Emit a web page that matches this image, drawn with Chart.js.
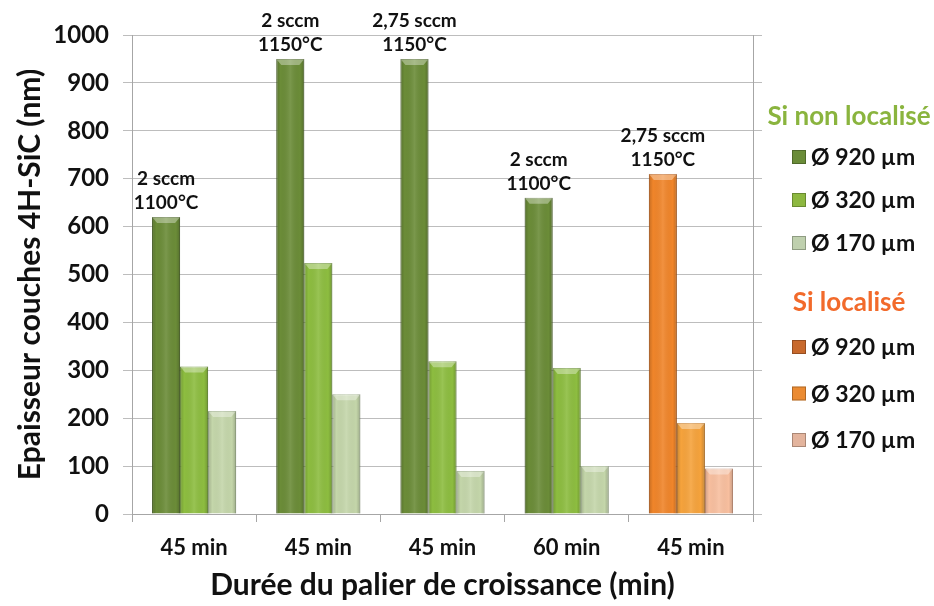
<!DOCTYPE html>
<html>
<head>
<meta charset="utf-8">
<script src="https://cdn.jsdelivr.net/npm/chart.js@4/dist/chart.umd.min.js"></script>
<style>
  html, body { margin: 0; padding: 0; background: #fff; }
  #wrap { width: 934px; height: 606px; position: relative; }
</style>
</head>
<body>
<div id="wrap"><canvas id="myChart"></canvas></div>
<script>
// durée du palier (axe x)
const categories = ['45 min', '45 min', '45 min', '60 min', '45 min'];
// épaisseur (nm) par diamètre
const values920 = [620, 950, 950, 660, 710];
const values320 = [308, 524, 319, 305, 190];
const values170 = [215, 250, 90, 100, 95];
// conditions de croissance au-dessus des barres
const annotFlux = ['2 sccm', '2 sccm', '2,75 sccm', '2 sccm', '2,75 sccm'];
const annotTemp = ['1100°C', '1150°C', '1150°C', '1100°C', '1150°C'];
// dernier groupe = Si localisé
const localise = [false, false, false, false, true];
const yTicks = [0, 100, 200, 300, 400, 500, 600, 700, 800, 900, 1000];
const legendGroups = ['Si non localisé', 'Si localisé'];
const legendItems = ['Ø 920 µm', 'Ø 320 µm', 'Ø 170 µm'];

const FONT = 'Lato';
const greens = ['#6b8c38', '#8dbd40', '#c4d6aa'];
const greenBorders = ['#4f6a28', '#6a9430', '#9aae84'];
const oranges = ['#f0852a', '#f6a33c', '#f8bf9f'];
const orangeBorders = ['#c0631c', '#cc7e26', '#cf9478'];
const legendGreens = ['#6a8c38', '#8db840', '#bfd0ae'];
const legendOranges = ['#c8692c', '#eb8b32', '#e3b49d'];
const headerColors = ['#8ab43e', '#f26a2b'];

function colorsFor(i) {
    return localise.map(l => l ? oranges[i] : greens[i]);
}
function bordersFor(i) {
    return localise.map(l => l ? orangeBorders[i] : greenBorders[i]);
}

// effet biseau sur les barres
const bevelPlugin = {
    id: 'bevel',
    afterDatasetsDraw(chart) {
        const ctx = chart.ctx;
        chart.data.datasets.forEach((ds, di) => {
            chart.getDatasetMeta(di).data.forEach(bar => {
                const w = bar.width, x0 = bar.x - w / 2, top = bar.y, base = bar.base;
                const g = ctx.createLinearGradient(x0, 0, x0 + w, 0);
                g.addColorStop(0, 'rgba(0,0,0,0.18)');
                g.addColorStop(0.15, 'rgba(0,0,0,0.0)');
                g.addColorStop(0.5, 'rgba(255,255,255,0.10)');
                g.addColorStop(0.85, 'rgba(0,0,0,0.0)');
                g.addColorStop(1, 'rgba(0,0,0,0.2)');
                ctx.save();
                ctx.fillStyle = g;
                ctx.fillRect(x0, top, w, base - top);
                // facette du haut
                ctx.beginPath();
                ctx.moveTo(x0, top);
                ctx.lineTo(x0 + w, top);
                ctx.lineTo(x0 + w - 5, top + 6);
                ctx.lineTo(x0 + 5, top + 6);
                ctx.closePath();
                ctx.fillStyle = 'rgba(255,255,255,0.35)';
                ctx.fill();
                ctx.restore();
            });
        });
    }
};

// étiquettes sccm / température
const annotPlugin = {
    id: 'annot',
    afterDatasetsDraw(chart) {
        const ctx = chart.ctx;
        const meta = chart.getDatasetMeta(0);
        ctx.save();
        ctx.font = `bold 19px ${FONT}`;
        ctx.fillStyle = '#111';
        ctx.textAlign = 'center';
        ctx.textBaseline = 'middle';
        meta.data.forEach((bar, i) => {
            ctx.fillText(annotTemp[i], bar.x, bar.y - 14);
            ctx.fillText(annotFlux[i], bar.x, bar.y - 38);
        });
        ctx.restore();
    }
};

// légende en deux groupes
const legendPlugin = {
    id: 'groupLegend',
    afterDraw(chart) {
        const ctx = chart.ctx;
        const area = chart.chartArea;
        const cx = area.right + 96;
        const boxX = area.right + 39;
        const headGap = [40, 44];
        const rowStep = [43, 46.5];
        const rows = [];
        let y = area.top + 82;
        legendGroups.forEach((grp, gi) => {
            rows.push({ header: grp, color: headerColors[gi], y: y });
            y += headGap[gi];
            legendItems.forEach((it, ii) => {
                rows.push({ text: it, color: gi === 0 ? legendGreens[ii] : legendOranges[ii], y: y });
                y += rowStep[gi];
            });
            y += 17;
        });
        ctx.save();
        ctx.textBaseline = 'middle';
        rows.forEach(r => {
            if (r.header) {
                ctx.font = `bold 26px ${FONT}`;
                ctx.fillStyle = r.color;
                ctx.textAlign = 'center';
                ctx.fillText(r.header, cx, r.y);
            } else {
                ctx.fillStyle = r.color;
                ctx.fillRect(boxX, r.y - 7, 14, 14);
                ctx.strokeStyle = 'rgba(0,0,0,0.25)';
                ctx.lineWidth = 1;
                ctx.strokeRect(boxX + 0.5, r.y - 6.5, 13, 13);
                ctx.font = `bold 23px ${FONT}`;
                ctx.fillStyle = '#111';
                ctx.textAlign = 'left';
                ctx.fillText(r.text, boxX + 19, r.y + 1);
            }
        });
        ctx.restore();
    }
};

const ctx = document.getElementById('myChart').getContext('2d');
const myChart = new Chart(ctx, {
    type: 'bar',
    data: {
        labels: categories,
        datasets: [
            { label: legendItems[0], data: values920, backgroundColor: colorsFor(0), borderColor: bordersFor(0), borderWidth: 1 },
            { label: legendItems[1], data: values320, backgroundColor: colorsFor(1), borderColor: bordersFor(1), borderWidth: 1 },
            { label: legendItems[2], data: values170, backgroundColor: colorsFor(2), borderColor: bordersFor(2), borderWidth: 1 }
        ]
    },
    options: {
        responsive: true,
        maintainAspectRatio: false,
        animation: false,
        categoryPercentage: 0.677,
        barPercentage: 1,
        layout: { padding: { top: 35, right: 172, bottom: 0, left: 0 } },
        plugins: {
            legend: { display: false },
            tooltip: { enabled: false }
        },
        scales: {
            x: {
                grid: {
                    offset: true,
                    drawOnChartArea: false,
                    color: '#a6a6a6',
                    tickLength: 8
                },
                border: { color: '#a6a6a6' },
                ticks: {
                    color: '#111',
                    padding: 13,
                    font: { family: FONT, size: 22, weight: 'bold' }
                },
                title: {
                    display: true,
                    text: 'Durée du palier de croissance (min)',
                    color: '#111',
                    font: { family: FONT, size: 30, weight: 'bold' },
                    padding: { top: 0, bottom: 3 }
                },
                afterFit(scale) { scale.height = 92; }
            },
            y: {
                min: 0,
                max: 1000,
                afterBuildTicks(scale) { scale.ticks = yTicks.map(v => ({ value: v })); },
                grid: { color: '#bdbdbd', tickLength: 9 },
                border: { color: '#a6a6a6' },
                ticks: {
                    color: '#111',
                    padding: 14,
                    font: { family: FONT, size: 24, weight: 'bold' },
                    callback: v => String(v)
                },
                title: {
                    display: true,
                    text: 'Epaisseur couches 4H-SiC (nm)',
                    color: '#111',
                    font: { family: FONT, size: 30, weight: 'bold' },
                    padding: { top: 12, bottom: 0 }
                },
                afterFit(scale) { scale.width = 132; }
            },
            y2: {
                position: 'right',
                min: 0,
                max: 1000,
                afterBuildTicks(scale) { scale.ticks = yTicks.map(v => ({ value: v })); },
                grid: { drawOnChartArea: false, color: '#bdbdbd', tickLength: 9 },
                border: { color: '#a6a6a6' },
                ticks: { display: false },
                afterFit(scale) { scale.width = 9; }
            }
        }
    },
    plugins: [bevelPlugin, annotPlugin, legendPlugin]
});
</script>
</body>
</html>
